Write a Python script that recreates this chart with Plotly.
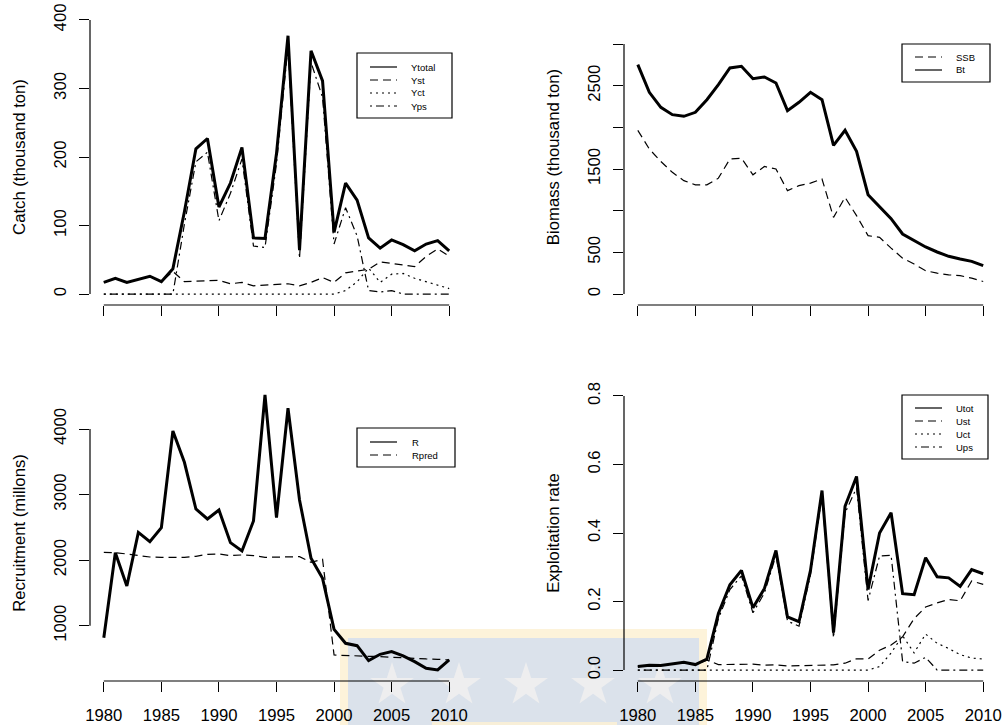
import math
import plotly.graph_objects as go

W, H = 1003, 725

years = list(range(1980, 2011))

# Catch by fleet (thousand ton)
catch_total = [17, 23, 17, 21, 26, 18, 37, 120, 212, 227, 127, 162, 214, 82, 81, 205,
               377, 64, 355, 311, 90, 162, 137, 82, 67, 79, 72, 63, 73, 78, 63]
catch_st = [17, 23, 17, 21, 26, 18, 33, 18, 19, 20, 20, 15, 17, 12, 13, 15,
            15, 12, 17, 24, 17, 31, 34, 36, 47, 45, 43, 40, 55, 66, 55]
catch_ct = [0] * 20 + [0, 5, 18, 38, 17, 29, 30, 23, 18, 12, 8]
catch_ps = [0] * 7 + [102, 193, 207, 107, 147, 197, 70, 68, 190, 362, 52, 338, 287,
                      73, 126, 85, 5, 3, 5, 0, 0, 0, 0, 0]

# Biomass (thousand ton)
biomass_ssb = [1964, 1740, 1590, 1460, 1360, 1310, 1310, 1390, 1620, 1630, 1430, 1530,
               1500, 1240, 1300, 1330, 1380, 920, 1160, 940, 700, 680, 550, 430, 360,
               280, 250, 230, 220, 190, 150]
biomass_bt = [2752, 2420, 2240, 2152, 2132, 2180, 2332, 2512, 2712, 2732, 2584, 2604,
              2532, 2200, 2300, 2420, 2332, 1784, 1964, 1712, 1192, 1052, 904, 720, 644,
              564, 504, 452, 420, 392, 340]

# Recruitment (millions)
recr = [817, 2114, 1606, 2424, 2282, 2496, 3970, 3492, 2780, 2628, 2765, 2267, 2140,
        2597, 4519, 2648, 4316, 2918, 2028, 1723, 945, 732, 696, 467, 564, 605, 539,
        452, 351, 325, 478]
recr_pred = [2119, 2114, 2094, 2069, 2048, 2043, 2043, 2043, 2058, 2089, 2094, 2069,
             2079, 2069, 2043, 2043, 2053, 2053, 1967, 2013, 553, 543, 539, 534, 529,
             518, 508, 503, 493, 488, 478]

# Exploitation rate
u_tot = [0.010, 0.014, 0.013, 0.017, 0.023, 0.016, 0.032, 0.165, 0.249, 0.291, 0.182,
         0.238, 0.349, 0.155, 0.141, 0.291, 0.524, 0.109, 0.478, 0.565, 0.235, 0.400,
         0.459, 0.223, 0.220, 0.328, 0.272, 0.269, 0.244, 0.293, 0.281]
u_st = [0.010, 0.014, 0.013, 0.017, 0.023, 0.016, 0.029, 0.016, 0.016, 0.016, 0.017,
        0.014, 0.015, 0.012, 0.013, 0.014, 0.015, 0.015, 0.020, 0.033, 0.032, 0.058,
        0.073, 0.097, 0.150, 0.184, 0.196, 0.206, 0.202, 0.260, 0.250]
u_ct = [0] * 21 + [0.010, 0.050, 0.100, 0.050, 0.105, 0.078, 0.063, 0.045, 0.035, 0.032]
u_ps = [0] * 7 + [0.150, 0.235, 0.275, 0.167, 0.225, 0.335, 0.143, 0.128, 0.278, 0.510,
                  0.094, 0.458, 0.532, 0.203, 0.333, 0.335, 0.025, 0.020, 0.037,
                  0, 0, 0, 0, 0]

x_ticks = [1980, 1985, 1990, 1995, 2000, 2005, 2010]
catch_ticks = [0, 100, 200, 300, 400]
biomass_ticks = [0, 500, 1000, 1500, 2000, 2500, 3000]
biomass_ticktext = ["0", "500", "", "1500", "", "2500", ""]
recr_ticks = [1000, 2000, 3000, 4000]
u_ticks = [0.0, 0.2, 0.4, 0.6, 0.8]
u_ticktext = ["0.0", "0.2", "0.4", "0.6", "0.8"]

FONT = "Liberation Sans, Arial, Helvetica, sans-serif"
BLACK = "#000000"
THIN, THICK = 1.2, 3.0
DASH = {"solid": "solid", "dashed": "8px,5px", "dotted": "2px,4px",
        "dotdash": "2px,4px,8px,4px"}


def px_x(p):
    return p / W


def px_y(p):
    return 1 - p / H


fig = go.Figure()


def add_line(x, y, n, width, style, name):
    fig.add_trace(go.Scatter(
        x=x, y=y, mode="lines", name=name, showlegend=False,
        xaxis="x" if n == 1 else f"x{n}", yaxis="y" if n == 1 else f"y{n}",
        line=dict(color=BLACK, width=width, dash=DASH[style]),
        hoverinfo="x+y"))


# Catch panel
add_line(years, catch_total, 1, THICK, "solid", "Ytotal")
add_line(years, catch_st, 1, THIN, "dashed", "Yst")
add_line(years, catch_ct, 1, THIN, "dotted", "Yct")
add_line(years, catch_ps, 1, THIN, "dotdash", "Yps")
# Biomass panel
add_line(years, biomass_ssb, 2, THIN, "dashed", "SSB")
add_line(years, biomass_bt, 2, THICK, "solid", "Bt")
# Recruitment panel
add_line(years, recr, 3, THICK, "solid", "R")
add_line(years, recr_pred, 3, THIN, "dashed", "Rpred")
# Exploitation panel
add_line(years, u_tot, 4, THICK, "solid", "Utot")
add_line(years, u_st, 4, THIN, "dashed", "Ust")
add_line(years, u_ct, 4, THIN, "dotted", "Uct")
add_line(years, u_ps, 4, THIN, "dotdash", "Ups")

# plot regions (pixels): left/right columns, top/bottom rows
cols = {1: (90, 997 - 624 + 90), 2: (624, 997)}
rows = {1: (9, 305), 2: (385, 681)}
panels = {
    1: dict(col=1, row=1, yrange=[-16, 416], ticks=catch_ticks, text=None,
            title="Catch (thousand ton)", xlabels=False),
    2: dict(col=2, row=1, yrange=[-132, 3420], ticks=biomass_ticks, text=biomass_ticktext,
            title="Biomass (thousand ton)", xlabels=False),
    3: dict(col=1, row=2, yrange=[157, 4671], ticks=recr_ticks, text=None,
            title="Recruitment (millons)", xlabels=True),
    4: dict(col=2, row=2, yrange=[-0.032, 0.832], ticks=u_ticks, text=u_ticktext,
            title="Exploitation rate", xlabels=True),
}

axis_font = dict(family=FONT, size=16.7, color=BLACK)
layout = {}
shapes = []
for n, p in panels.items():
    xs = "" if n == 1 else str(n)
    c0, c1 = cols[p["col"]]
    r0, r1 = rows[p["row"]]
    layout[f"xaxis{xs}"] = dict(
        domain=[px_x(c0), px_x(c1)], range=[1978.8, 2011.2], anchor=f"y{xs}",
        tickmode="array", tickvals=x_ticks, ticks="outside", ticklen=10,
        tickwidth=1.2, tickcolor=BLACK, showticklabels=p["xlabels"],
        ticklabelstandoff=9,
        tickfont=axis_font, showline=False, showgrid=False, zeroline=False,
        automargin=False, fixedrange=True)
    yax = dict(
        domain=[px_y(r1), px_y(r0)], range=p["yrange"], anchor=f"x{xs}",
        tickmode="array", tickvals=p["ticks"], ticks="outside", ticklen=10,
        tickwidth=1.2, tickcolor=BLACK, tickangle=-90, tickfont=axis_font,
        ticklabelstandoff=6,
        showline=False, showgrid=False, zeroline=False, automargin=False,
        fixedrange=True,
        title=dict(text=p["title"], font=axis_font, standoff=21))
    if p["text"] is not None:
        yax["ticktext"] = p["text"]
    layout[f"yaxis{xs}"] = yax
    # axis lines spanning only the labelled range, as in base R graphics
    shapes.append(dict(type="line", xref=f"x{xs}", yref=f"y{xs} domain",
                       x0=years[0], x1=years[-1], y0=0, y1=0,
                       line=dict(color=BLACK, width=1.2)))
    shapes.append(dict(type="line", xref=f"x{xs} domain", yref=f"y{xs}",
                       x0=0, x1=0, y0=p["ticks"][0], y1=p["ticks"][-1],
                       line=dict(color=BLACK, width=1.2)))

# legends: box, line samples and labels (pixel layout)
legends = [
    dict(box=(357, 53, 452, 118), rows=[67, 80, 93, 106], x=(370, 397), tx=409,
         items=[("Ytotal", "solid"), ("Yst", "dashed"), ("Yct", "dotted"), ("Yps", "dotdash")]),
    dict(box=(902, 44, 990, 82), rows=[57, 70], x=(915, 942), tx=954,
         items=[("SSB", "dashed"), ("Bt", "solid")]),
    dict(box=(357, 428, 455, 467), rows=[442, 455], x=(370, 397), tx=410,
         items=[("R", "solid"), ("Rpred", "dashed")]),
    dict(box=(902, 395, 988, 459), rows=[408, 421, 434, 447], x=(915, 942), tx=954,
         items=[("Utot", "solid"), ("Ust", "dashed"), ("Uct", "dotted"), ("Ups", "dotdash")]),
]
annotations = []
for lg in legends:
    bx0, by0, bx1, by1 = lg["box"]
    shapes.append(dict(type="rect", xref="paper", yref="paper",
                       x0=px_x(bx0), x1=px_x(bx1), y0=px_y(by1), y1=px_y(by0),
                       line=dict(color=BLACK, width=1.2), fillcolor="white"))
    for (label, style), ry in zip(lg["items"], lg["rows"]):
        shapes.append(dict(type="line", xref="paper", yref="paper",
                           x0=px_x(lg["x"][0]), x1=px_x(lg["x"][1]),
                           y0=px_y(ry), y1=px_y(ry),
                           line=dict(color=BLACK, width=1.2, dash=DASH[style])))
        annotations.append(dict(text=label, xref="paper", yref="paper",
                                x=px_x(lg["tx"]), y=px_y(ry), xanchor="left",
                                yanchor="middle", showarrow=False,
                                font=dict(family=FONT, size=9.5, color=BLACK)))


# watermark banner behind the lower panels
def star_path(cx, cy, R):
    r = R * 0.382
    pts = []
    for k in range(10):
        rad = R if k % 2 == 0 else r
        a = math.pi / 2 + k * math.pi / 5
        pts.append((px_x(cx + rad * math.cos(a)), px_y(cy - rad * math.sin(a))))
    return "M " + " L ".join(f"{a:.5f},{b:.5f}" for a, b in pts) + " Z"


shapes.append(dict(type="rect", xref="paper", yref="paper", layer="below",
                   x0=px_x(340), x1=px_x(707), y0=0, y1=px_y(629),
                   line=dict(width=0), fillcolor="#fdf3da"))
shapes.append(dict(type="rect", xref="paper", yref="paper", layer="below",
                   x0=px_x(348), x1=px_x(699), y0=0, y1=px_y(638),
                   line=dict(width=0), fillcolor="#dbe2eb"))
shapes.append(dict(type="rect", xref="paper", yref="paper", layer="below",
                   x0=px_x(432), x1=px_x(617), y0=0, y1=px_y(722),
                   line=dict(width=0), fillcolor="#f8efd8"))
for cx in [392, 459, 526, 593, 660]:
    shapes.append(dict(type="path", xref="paper", yref="paper", layer="below",
                       path=star_path(cx, 685, 23), line=dict(width=0),
                       fillcolor="#eeeeef"))

fig.update_layout(
    width=W, height=H, margin=dict(l=0, r=0, t=0, b=0),
    paper_bgcolor="white", plot_bgcolor="rgba(0,0,0,0)",
    showlegend=False, shapes=shapes, annotations=annotations,
    font=dict(family=FONT, color=BLACK), **layout)

fig.write_html("out.html")
